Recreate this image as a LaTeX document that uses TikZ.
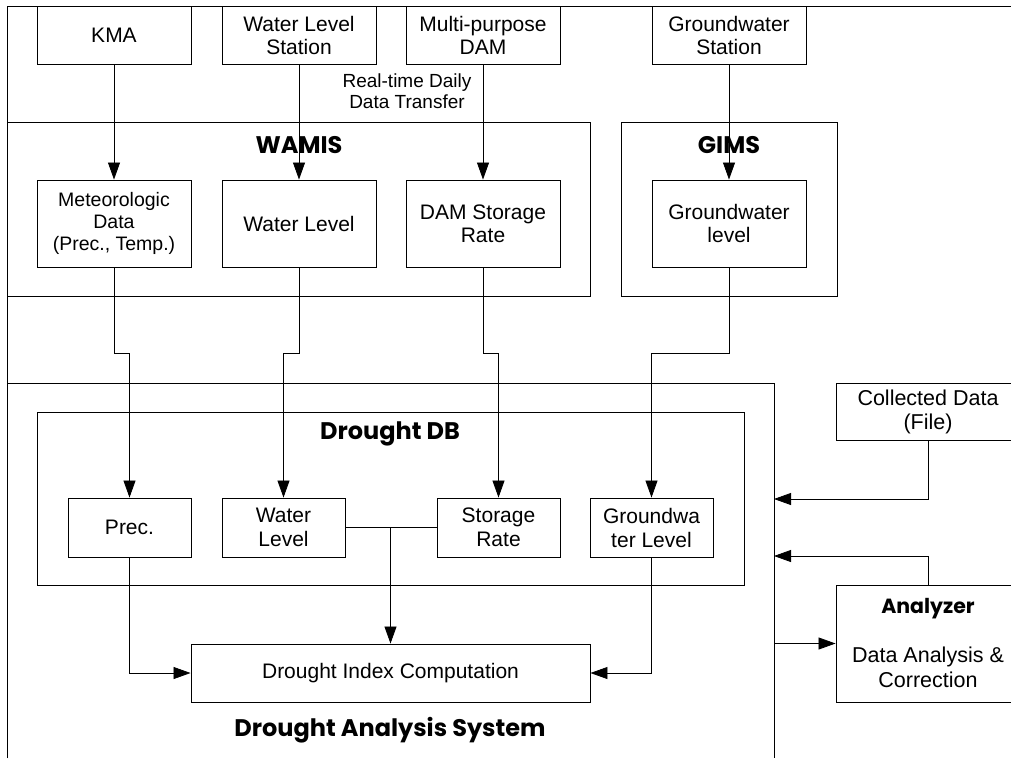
\documentclass[tikz,border=0pt]{standalone}
\usepackage{fontspec}
\setmainfont{Liberation Sans}
\newfontfamily\titlefont{Poppins}
\usetikzlibrary{arrows.meta}
\begin{document}
\begin{tikzpicture}[x=1pt,y=-1pt,
  frame/.style={draw, line width=1pt},
  box/.style={draw, line width=0.9pt, minimum width=154pt, minimum height=58pt, align=center, inner sep=0pt, font=\fontsize{21}{23}\selectfont},
  dbbox/.style={box, minimum width=123pt, minimum height=59pt, font=\fontsize{21}{24}\selectfont},
  title/.style={font=\titlefont\bfseries\fontsize{24}{28}\selectfont, inner sep=0pt},
  conn/.style={line width=0.8pt},
  arr/.style={conn, -{Triangle[length=17pt,width=12pt]}}]
\useasboundingbox (0,0) rectangle (1011,758);
% frames
\draw[frame] (7,758) -- (7,6) -- (1011,6);
\draw[frame] (7,122) rectangle (590,296);
\draw[frame] (621,122) rectangle (837,296);
\draw[frame] (7,758) -- (7,383) -- (774,383) -- (774,758);
\draw[frame] (37,412) rectangle (744,585);
% titles
\node[title] (twamis) at (299,145) {WAMIS};
\node[title] (tgims) at (729,145) {GIMS};
\node[title] (tdb) at (390,434) {Drought DB};
\node[title] (tdas) at (390,730) {Drought Analysis System};
% top boxes
\node[box] (kma) at (114,35) {KMA};
\node[box] (wls) at (299,35) {Water Level\\Station};
\node[box] (dam) at (483,35) {Multi-purpose\\DAM};
\node[box] (gws) at (729,35) {Groundwater\\Station};
\node[align=center, inner sep=0pt, font=\fontsize{19}{21}\selectfont] (rt) at (407,91) {Real-time Daily\\Data Transfer};
% WAMIS / GIMS inner boxes
\node[box, minimum height=87pt, font=\fontsize{19.5}{22}\selectfont] (met) at (114,223.5) {Meteorologic\\Data\\(Prec., Temp.)};
\node[box, minimum height=87pt] (wl) at (299,223.5) {Water Level};
\node[box, minimum height=87pt] (dsr) at (483,223.5) {DAM Storage\\Rate};
\node[box, minimum height=87pt] (gwl) at (729,223.5) {Groundwater\\level};
% Drought DB boxes
\node[dbbox] (prec) at (129.5,527.5) {Prec.};
\node[dbbox] (wl2) at (283.5,527.5) {Water\\Level};
\node[dbbox] (sr) at (498.5,527.5) {Storage\\Rate};
\node[dbbox] (gwl2) at (651.5,527.5) {Groundwa\\ter Level};
\node[box, minimum width=399pt, minimum height=58pt] (dic) at (390.5,673) {Drought Index Computation};
% right side
\node[box, minimum width=184pt, minimum height=57pt, font=\fontsize{21.5}{24}\selectfont] (cdf) at (928,411.5) {Collected Data\\(File)};
\node[box, minimum width=184pt, minimum height=117pt, font=\fontsize{21.5}{25}\selectfont] (ana) at (928,643.5) {{\titlefont\bfseries\fontsize{20.5}{22}\selectfont Analyzer}\\[24pt]Data Analysis \&\\Correction};
% coordinates
\coordinate (row) at (0,353);
\coordinate (das1) at (774,499);
\coordinate (das2) at (774,556);
\coordinate (das3) at (774,643.5);
% arrows top
\draw[arr] (kma.south) -- (met.north);
\draw[arr] (wls.south) -- (wl.north);
\draw[arr] (dam.south) -- (dsr.north);
\draw[arr] (gws.south) -- (gwl.north);
% to DB
\draw[arr] (met.south) -- (met.south |- row) -- (prec.north |- row) -- (prec.north);
\draw[arr] (wl.south) -- (wl.south |- row) -- (wl2.north |- row) -- (wl2.north);
\draw[arr] (dsr.south) -- (dsr.south |- row) -- (sr.north |- row) -- (sr.north);
\draw[arr] (gwl.south) -- (gwl.south |- row) -- (gwl2.north |- row) -- (gwl2.north);
% DB to computation
\draw[conn] (wl2.east) -- (sr.west);
\draw[arr] (wl2.east -| dic.north) -- (dic.north);
\draw[arr] (prec.south) |- (dic.west);
\draw[arr] (gwl2.south) |- (dic.east);
% right side
\draw[arr] (cdf.south) |- (das1);
\draw[arr] (ana.north) |- (das2);
\draw[arr] (das3) -- (ana.west);
\end{tikzpicture}
\end{document}
